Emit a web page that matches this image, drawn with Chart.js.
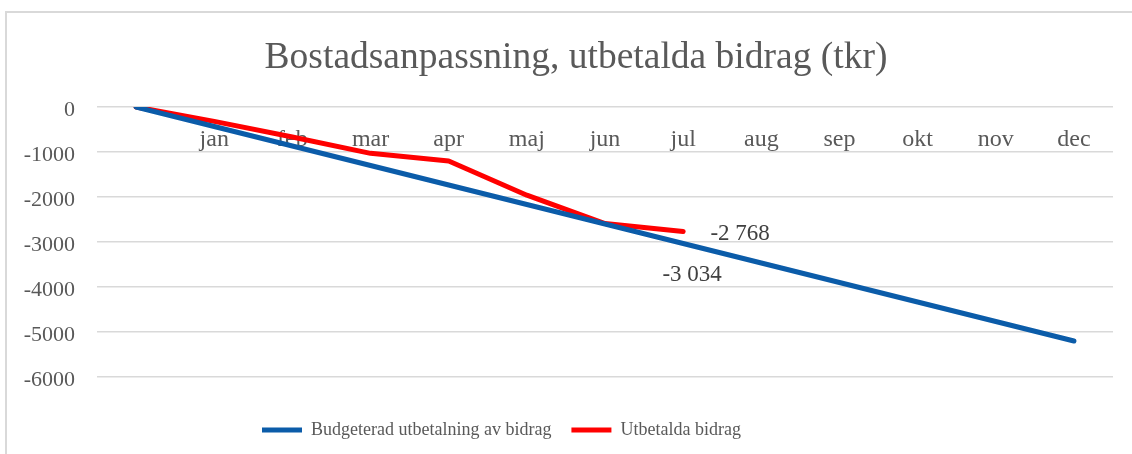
<!DOCTYPE html>
<html>
<head>
<meta charset="utf-8">
<script src="https://cdn.jsdelivr.net/npm/chart.js@4"></script>
<style>
  html, body { margin: 0; padding: 0; background: #fff; }
  #wrap { position: relative; width: 1132px; height: 454px; }
</style>
</head>
<body>
<div id="wrap"><canvas id="chart" width="1132" height="454"></canvas></div>
<script>
// Bostadsanpassning - budget vs utfall (tkr)

const months = ['', 'jan', 'feb', 'mar', 'apr', 'maj', 'jun', 'jul', 'aug', 'sep', 'okt', 'nov', 'dec'];
const budget = [0, -434, -867, -1300, -1734, -2167, -2600, -3034, -3467, -3901, -4334, -4767, -5201];
const utfall = [0, -320, -665, -1030, -1200, -1960, -2590, -2768];
const yTicks = [0, -1000, -2000, -3000, -4000, -5000, -6000];
const labelIndex = 7; // jul

const gray = '#595959';
const serif = "'Liberation Serif', 'Times New Roman', serif";

function formatTkr(v) {
    const s = String(Math.abs(v)).replace(/\B(?=(\d{3})+(?!\d))/g, ' ');
    return (v < 0 ? '-' : '') + s;
}

// Frame around the chart, like the Excel export
const framePlugin = {
    id: 'frame',
    beforeDraw(chart) {
        const ctx = chart.ctx;
        ctx.save();
        ctx.strokeStyle = '#d9d9d9';
        ctx.lineWidth = 2;
        ctx.strokeRect(6, 12, 1300, 600);
        ctx.restore();
    }
};

// The original frame is wider than the picture, so title and legend
// are not centred on the canvas
const shiftBoxes = {
    id: 'shiftBoxes',
    afterLayout(chart) {
        if (chart.legend) {
            chart.legend.left = 242;
        }
        if (chart.titleBlock) {
            chart.titleBlock.right = chart.titleBlock.left + 1152;
        }
    }
};

// Value labels at the last reported month
const valueLabels = {
    id: 'valueLabels',
    afterDatasetsDraw(chart) {
        const ctx = chart.ctx;
        ctx.save();
        ctx.font = '23px ' + serif;
        ctx.fillStyle = '#404040';
        ctx.textAlign = 'center';
        ctx.textBaseline = 'middle';

        const red = chart.getDatasetMeta(1).data[labelIndex];
        ctx.fillText(formatTkr(utfall[labelIndex]), red.x + 57, red.y + 2);

        const blue = chart.getDatasetMeta(0).data[labelIndex];
        ctx.fillText(formatTkr(budget[labelIndex]), blue.x + 9, blue.y + 31);
        ctx.restore();
    }
};

const ctx = document.getElementById('chart').getContext('2d');

new Chart(ctx, {
    type: 'line',
    data: {
        labels: months,
        datasets: [{
            label: 'Budgeterad utbetalning av bidrag',
            data: budget,
            borderColor: '#0B5CA9',
            backgroundColor: '#0B5CA9',
            borderWidth: 5,
            borderCapStyle: 'round',
            borderJoinStyle: 'round',
            pointRadius: 0,
            tension: 0
        }, {
            label: 'Utbetalda bidrag',
            data: utfall,
            borderColor: '#FF0000',
            backgroundColor: '#FF0000',
            borderWidth: 5,
            borderCapStyle: 'round',
            borderJoinStyle: 'round',
            pointRadius: 0,
            tension: 0
        }]
    },
    options: {
        responsive: false,
        animation: false,
        layout: {
            padding: { left: 0, right: 19, top: 0, bottom: 5 }
        },
        plugins: {
            title: {
                display: true,
                text: 'Bostadsanpassning, utbetalda bidrag (tkr)',
                color: gray,
                font: { family: serif, size: 37.5, weight: 'normal' },
                padding: { top: 36, bottom: 26 }
            },
            legend: {
                position: 'bottom',
                align: 'start',
                title: {
                    display: true,
                    text: '',
                    font: { size: 10, lineHeight: 1 },
                    padding: { top: 14, bottom: 0 }
                },
                labels: {
                    color: gray,
                    font: { family: serif, size: 18 },
                    usePointStyle: true,
                    pointStyle: 'line',
                    pointStyleWidth: 40,
                    padding: 20
                }
            },
            tooltip: { enabled: false }
        },
        scales: {
            x: {
                position: { y: 0 },
                offset: true,
                grid: { display: false, drawTicks: false },
                border: { display: false },
                ticks: {
                    color: gray,
                    padding: 18,
                    maxRotation: 0,
                    autoSkip: false,
                    font: { family: serif, size: 24 }
                }
            },
            y: {
                min: -6000,
                max: 0,
                afterFit(scale) {
                    scale.width = 97;
                },
                afterBuildTicks(scale) {
                    scale.ticks = yTicks.map(v => ({ value: v }));
                },
                grid: {
                    color: '#d9d9d9',
                    lineWidth: 1.5,
                    drawTicks: false
                },
                border: { display: false },
                ticks: {
                    color: gray,
                    padding: 22,
                    labelOffset: 3,
                    font: { family: serif, size: 22 },
                    callback: v => String(v)
                }
            }
        }
    },
    plugins: [framePlugin, shiftBoxes, valueLabels]
});
</script>
</body>
</html>
